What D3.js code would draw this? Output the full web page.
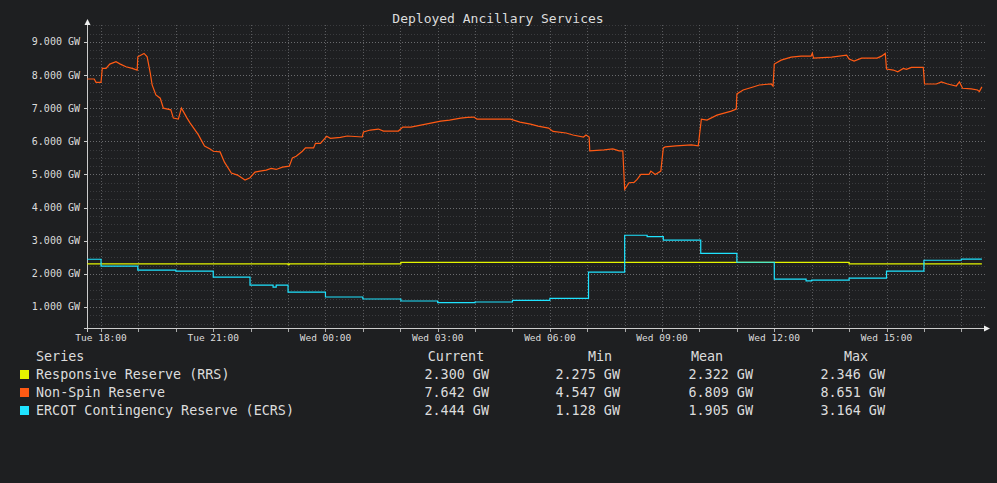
<!DOCTYPE html>
<html>
<head>
<script src="https://cdn.jsdelivr.net/npm/d3@7"></script>
<style>
	body { margin: 0; background: #1e1f21; }
	svg { display: block; }
	text { font-family: "DejaVu Sans Mono", monospace; fill: #dcdcdc; }
</style>
</head>
<body>
<div id="container"></div>
<script>
	// minutes relative to Tue 18:00, values in MW
	const nonSpinT = [-22,-11,-8,0,2,8,14,24,31,40,50,58,59,69,74,79,82,88,95,100,112,116,124,129,138,143,156,166,175,180,191,198,209,219,231,239,247,255,265,273,281,291,302,307,313,323,328,341,344,352,362,368,384,395,419,421,432,445,453,477,484,497,513,529,545,559,577,588,598,603,657,672,689,701,718,725,746,757,774,778,783,784,807,821,831,837,840,847,855,860,866,879,882,889,898,902,905,922,947,958,963,972,988,1011,1019,1020,1030,1046,1056,1075,1078,1080,1091,1107,1123,1139,1141,1143,1172,1196,1200,1208,1220,1245,1252,1258,1260,1271,1278,1287,1292,1300,1319,1321,1340,1348,1358,1372,1377,1382,1396,1406,1409,1413];
	const nonSpinV = [7880,7880,7780,7780,8200,8200,8330,8400,8330,8250,8200,8150,8550,8651,8550,8060,7700,7400,7300,7000,6950,6700,6670,7000,6700,6550,6200,5860,5770,5700,5680,5370,5040,4980,4830,4900,5070,5100,5130,5180,5150,5220,5250,5500,5550,5700,5800,5800,5940,5940,6150,6090,6120,6160,6130,6280,6340,6370,6310,6310,6430,6430,6490,6550,6610,6640,6700,6720,6730,6670,6670,6580,6520,6460,6400,6300,6250,6190,6130,6190,6130,5710,5740,5770,5710,5710,4547,4750,4760,4850,5000,5000,5100,5000,5100,5800,5830,5860,5890,5860,6670,6640,6790,6910,6970,7430,7550,7640,7700,7730,7670,8330,8450,8540,8570,8570,8660,8510,8540,8600,8480,8420,8510,8510,8570,8651,8180,8150,8100,8200,8170,8230,8230,7730,7730,7790,7730,7670,7790,7600,7580,7550,7500,7642];

	const ecrsT = [-22,0,59,120,180,239,275,276,281,300,360,420,481,540,600,660,720,782,840,876,902,962,1020,1080,1128,1131,1140,1200,1260,1320,1380,1413];
	const ecrsV = [2440,2230,2110,2080,1900,1660,1660,1600,1660,1450,1300,1240,1180,1128,1150,1200,1260,2050,3164,3120,3020,2620,2350,1840,1840,1790,1810,1870,2080,2410,2444,2444];

	const rrsT = [-22,298,300,302,481,1200,1413];
	const rrsV = [2300,2300,2275,2300,2346,2300,2300];

	const seriesNames = ["Responsive Reserve (RRS)", "Non-Spin Reserve", "ERCOT Contingency Reserve (ECRS)"];
	const seriesColors = ["#e4f500", "#ff5a14", "#1fe3ff"];
	const currentVals = ["2.300 GW", "7.642 GW", "2.444 GW"];
	const minVals = ["2.275 GW", "4.547 GW", "1.128 GW"];
	const meanVals = ["2.322 GW", "6.809 GW", "1.905 GW"];
	const maxVals = ["2.346 GW", "8.651 GW", "3.164 GW"];
	const xTickLabels = ["Tue 18:00", "Tue 21:00", "Wed 00:00", "Wed 03:00", "Wed 06:00", "Wed 09:00", "Wed 12:00", "Wed 15:00"];

	const width = 997, height = 483;
	const svg = d3.select("#container").append("svg").attr("width", width).attr("height", height);

	const x = d3.scaleLinear().domain([-22.5, 1418]).range([87, 985]);
	const y = d3.scaleLinear().domain([365, 9510]).range([328, 25]);

	/* grid */
	const grid = svg.append("g");
	grid.selectAll(".hmin").data(d3.range(500, 9501, 250).filter(v => v % 1000)).enter().append("line")
		.attr("x1", 87).attr("x2", 985).attr("y1", d => Math.round(y(d)) + 0.5).attr("y2", d => Math.round(y(d)) + 0.5)
		.attr("stroke", "#3a3b3e").attr("stroke-dasharray", "1,2");
	grid.selectAll(".hmaj").data(d3.range(1000, 9001, 1000)).enter().append("line")
		.attr("x1", 87).attr("x2", 985).attr("y1", d => Math.round(y(d)) + 0.5).attr("y2", d => Math.round(y(d)) + 0.5)
		.attr("stroke", "#6a6b6e").attr("stroke-dasharray", "1,2");
	grid.selectAll(".v").data(d3.range(0, 1418, 60)).enter().append("line")
		.attr("y1", 25).attr("y2", 328).attr("x1", d => Math.round(x(d)) + 0.5).attr("x2", d => Math.round(x(d)) + 0.5)
		.attr("stroke", "#5a5b5e").attr("stroke-dasharray", "1,2");

	/* y labels */
	svg.selectAll(".yl").data(d3.range(1000, 9001, 1000)).enter().append("text")
		.attr("x", 80).attr("y", d => y(d) + 3.5).attr("text-anchor", "end").attr("font-size", 10)
		.text(d => d3.format(".3f")(d / 1000) + " GW");
	svg.selectAll(".yt").data(d3.range(1000, 9001, 1000)).enter().append("line")
		.attr("x1", 84).attr("x2", 87).attr("y1", d => Math.round(y(d)) + 0.5).attr("y2", d => Math.round(y(d)) + 0.5)
		.attr("stroke", "#ccc");

	/* x ticks */
	svg.selectAll(".xt").data(d3.range(0, 1418, 60)).enter().append("line")
		.attr("x1", d => Math.round(x(d)) + 0.5).attr("x2", d => Math.round(x(d)) + 0.5).attr("y1", 328).attr("y2", 332)
		.attr("stroke", "#aaa");
	svg.selectAll(".xl").data(xTickLabels).enter().append("text")
		.attr("x", (d, i) => x(i * 180)).attr("y", 341).attr("text-anchor", "middle").attr("font-size", 9.5)
		.text(d => d);

	/* axes with arrows */
	svg.append("line").attr("x1", 87.5).attr("x2", 87.5).attr("y1", 22).attr("y2", 332).attr("stroke", "#ccc");
	svg.append("path").attr("d", "M84.5,25 L87.5,19 L90.5,25 Z").attr("fill", "#eee");
	svg.append("line").attr("x1", 84).attr("x2", 985).attr("y1", 328.5).attr("y2", 328.5).attr("stroke", "#ccc");
	svg.append("path").attr("d", "M984,325.5 L990,328.5 L984,331.5 Z").attr("fill", "#eee");

	/* lines */
	function draw(ts, vs, color, curve) {
		const pts = ts.map((t, i) => [t, vs[i]]);
		svg.append("path").datum(pts)
			.attr("d", d3.line().x(d => x(d[0])).y(d => y(d[1])).curve(curve))
			.attr("fill", "none").attr("stroke", color).attr("stroke-width", 1.2);
	}
	draw(rrsT, rrsV, seriesColors[0], d3.curveStepAfter);
	draw(ecrsT, ecrsV, seriesColors[2], d3.curveStepAfter);
	draw(nonSpinT, nonSpinV, seriesColors[1], d3.curveLinear);

	/* title */
	svg.append("text").attr("x", 498).attr("y", 23).attr("text-anchor", "middle").attr("font-size", 13)
		.text("Deployed Ancillary Services");

	/* legend */
	const fs = "13.4px";
	const lg = svg.append("g");
	lg.append("text").attr("x", 36).attr("y", 361).text("Series").style("font-size", fs);
	[["Current", 456], ["Min", 600], ["Mean", 707], ["Max", 856]].forEach(h => {
		lg.append("text").attr("x", h[1]).attr("y", 361).attr("text-anchor", "middle").style("font-size", fs).text(h[0]);
	});
	seriesNames.forEach((n, i) => {
		const yy = 379 + i * 18;
		lg.append("rect").attr("x", 20).attr("y", yy - 9).attr("width", 9).attr("height", 9).attr("fill", seriesColors[i]);
		lg.append("text").attr("x", 36).attr("y", yy).style("font-size", fs).text(n);
		[[currentVals, 489], [minVals, 620], [meanVals, 753], [maxVals, 885]].forEach(c => {
			lg.append("text").attr("x", c[1]).attr("y", yy).attr("text-anchor", "end").style("font-size", fs).text(c[0][i]);
		});
	});
</script>
</body>
</html>
